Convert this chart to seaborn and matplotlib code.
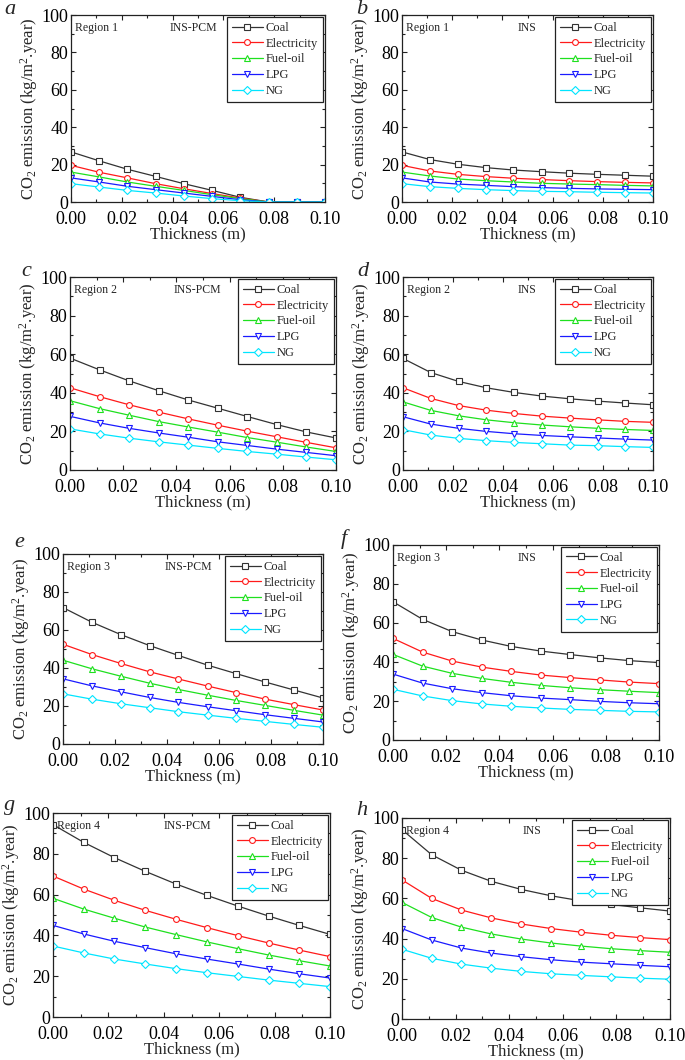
import numpy as np
import pandas as pd
import seaborn as sns
import matplotlib.pyplot as plt
from matplotlib.ticker import MultipleLocator

sns.set_style("ticks")
plt.rcParams['font.family'] = ['Liberation Serif', 'DejaVu Serif']
plt.rcParams['mathtext.fontset'] = 'custom'
plt.rcParams['mathtext.rm'] = 'Liberation Serif'
plt.rcParams['mathtext.default'] = 'regular'

# thickness (m)
thickness = [0.0, 0.0111, 0.0222, 0.0333, 0.0444, 0.0556, 0.0667, 0.0778, 0.0889, 0.1]
fuels = ["Coal", "Electricity", "Fuel-oil", "LPG", "NG"]

# a : Region 1, INS-PCM
r1_pcm = {
    "Coal":        [26.8, 22.0, 17.5, 13.7, 9.8, 6.2, 2.5, 0.0, 0.0, 0.0],
    "Electricity": [19.6, 15.9, 12.9, 9.8, 7.1, 4.5, 2.1, 0.0, 0.0, 0.0],
    "Fuel-oil":    [16.0, 13.4, 10.7, 8.4, 6.2, 3.9, 1.8, 0.0, 0.0, 0.0],
    "LPG":         [12.9, 10.7, 8.4, 6.6, 4.8, 3.0, 1.2, 0.0, 0.0, 0.0],
    "NG":          [9.8, 8.0, 6.2, 4.8, 3.2, 1.8, 0.7, 0.0, 0.0, 0.0],
}
# b : Region 1, INS
r1_ins = {
    "Coal":        [26.8, 22.7, 20.2, 18.4, 17.1, 16.2, 15.4, 14.8, 14.3, 13.8],
    "Electricity": [19.6, 16.6, 14.8, 13.6, 12.7, 12.0, 11.4, 10.9, 10.5, 10.2],
    "Fuel-oil":    [16.0, 13.9, 12.3, 11.4, 10.7, 10.0, 9.6, 9.3, 8.9, 8.6],
    "LPG":         [12.9, 10.7, 9.6, 8.9, 8.2, 7.7, 7.3, 7.0, 6.8, 6.6],
    "NG":          [9.8, 8.2, 7.3, 6.6, 6.1, 5.7, 5.5, 5.2, 5.0, 4.8],
}
# c : Region 2, INS-PCM
r2_pcm = {
    "Coal":        [58.0, 51.9, 46.2, 41.1, 36.3, 32.0, 27.7, 23.5, 19.7, 16.6],
    "Electricity": [42.6, 38.0, 33.8, 30.0, 26.5, 23.2, 20.1, 17.2, 14.3, 11.5],
    "Fuel-oil":    [35.9, 31.8, 28.4, 25.1, 22.3, 19.6, 16.8, 14.4, 11.9, 9.6],
    "LPG":         [27.8, 24.4, 21.6, 19.2, 17.0, 14.6, 12.7, 10.8, 9.1, 7.4],
    "NG":          [21.3, 18.7, 16.5, 14.6, 12.9, 11.2, 9.6, 8.2, 6.7, 5.3],
}
# d : Region 2, INS
r2_ins = {
    "Coal":        [57.8, 50.5, 45.9, 42.6, 40.2, 38.3, 36.9, 35.7, 34.7, 33.8],
    "Electricity": [42.6, 37.1, 33.4, 31.0, 29.3, 27.9, 26.9, 26.0, 25.2, 24.7],
    "Fuel-oil":    [35.3, 30.9, 28.1, 26.0, 24.5, 23.3, 22.4, 21.6, 21.0, 20.5],
    "LPG":         [27.6, 23.8, 21.6, 20.0, 18.8, 17.9, 17.2, 16.6, 16.0, 15.5],
    "NG":          [20.9, 18.1, 16.4, 15.2, 14.3, 13.6, 12.9, 12.6, 12.1, 11.7],
}
# e : Region 3, INS-PCM
r3_pcm = {
    "Coal":        [71.8, 64.1, 57.6, 51.8, 46.6, 41.5, 37.0, 32.6, 28.4, 24.2],
    "Electricity": [52.5, 47.1, 42.4, 38.0, 34.2, 30.5, 27.0, 23.6, 20.7, 17.9],
    "Fuel-oil":    [44.1, 39.6, 35.7, 32.0, 28.7, 25.7, 22.9, 20.3, 17.7, 15.2],
    "LPG":         [34.3, 30.6, 27.5, 24.5, 21.9, 19.6, 17.5, 15.4, 13.5, 11.6],
    "NG":          [26.4, 23.6, 21.2, 19.1, 17.0, 15.2, 13.5, 11.9, 10.3, 8.8],
}
# f : Region 3, INS
r3_ins = {
    "Coal":        [70.9, 61.9, 55.6, 51.3, 48.0, 45.6, 43.8, 42.1, 40.7, 39.7],
    "Electricity": [52.1, 45.1, 40.5, 37.4, 35.2, 33.3, 32.0, 30.8, 29.7, 28.9],
    "Fuel-oil":    [43.9, 37.9, 34.2, 31.6, 29.6, 28.0, 26.8, 25.8, 25.0, 24.3],
    "LPG":         [33.8, 29.2, 26.3, 24.3, 22.7, 21.5, 20.7, 19.8, 19.1, 18.6],
    "NG":          [26.0, 22.6, 20.2, 18.5, 17.3, 16.4, 15.7, 15.2, 14.7, 14.4],
}
# g : Region 4, INS-PCM
r4_pcm = {
    "Coal":        [94.3, 85.6, 78.1, 71.4, 65.2, 59.6, 54.4, 49.5, 44.9, 40.5],
    "Electricity": [69.1, 62.7, 57.2, 52.3, 47.9, 43.8, 39.9, 36.3, 32.8, 29.6],
    "Fuel-oil":    [58.2, 52.9, 48.4, 44.1, 40.4, 36.8, 33.5, 30.4, 27.6, 25.0],
    "LPG":         [44.9, 40.7, 37.1, 34.0, 31.0, 28.4, 26.0, 23.5, 21.2, 19.1],
    "NG":          [34.8, 31.4, 28.4, 26.0, 23.7, 21.7, 19.9, 18.1, 16.5, 14.9],
}
# h : Region 4, INS
r4_ins = {
    "Coal":        [94.2, 81.7, 74.0, 68.5, 64.5, 61.3, 58.8, 57.0, 55.3, 53.7],
    "Electricity": [69.2, 60.0, 54.2, 50.3, 47.3, 45.0, 43.2, 41.7, 40.5, 39.5],
    "Fuel-oil":    [58.0, 50.5, 45.7, 42.3, 39.8, 37.8, 36.3, 35.0, 34.0, 33.2],
    "LPG":         [45.0, 39.3, 35.3, 32.8, 31.0, 29.5, 28.3, 27.5, 26.7, 26.0],
    "NG":          [34.7, 30.2, 27.3, 25.3, 23.7, 22.5, 21.7, 21.0, 20.3, 19.8],
}

colors = {"Coal": "#333333", "Electricity": "#ff1a1a", "Fuel-oil": "#1ee01e",
          "LPG": "#1a1aff", "NG": "#00e5ff"}
markers = {"Coal": "s", "Electricity": "o", "Fuel-oil": "^", "LPG": "v", "NG": "D"}
msize = {"Coal": 3.8, "Electricity": 4.2, "Fuel-oil": 4.3, "LPG": 4.3, "NG": 3.6}

W, H = 685, 1060
# letter, region, case, data, (left, top, right, bottom) in px, case text x, letter pos
panels = [
    ("a", "Region 1", "INS-PCM", r1_pcm, (71, 15, 325, 202), 0.39, (4, 0)),
    ("b", "Region 1", "INS", r1_ins, (402, 15, 653, 202), 0.46, (356, 0)),
    ("c", "Region 2", "INS-PCM", r2_pcm, (70, 277, 336, 470), 0.39, (21, 262)),
    ("d", "Region 2", "INS", r2_ins, (403, 277, 653, 470), 0.46, (357, 262)),
    ("e", "Region 3", "INS-PCM", r3_pcm, (63, 554, 323, 744), 0.39, (14, 533)),
    ("f", "Region 3", "INS", r3_ins, (393, 545, 659, 740), 0.47, (341, 529)),
    ("g", "Region 4", "INS-PCM", r4_pcm, (53, 813, 330, 1017), 0.40, (4, 796)),
    ("h", "Region 4", "INS", r4_ins, (402, 818, 670, 1019), 0.45, (356, 801)),
]

fig = plt.figure(figsize=(W / 100, H / 100), dpi=100)

for letter, region, case, data, (l, t, r, b), cx, (lx, ly) in panels:
    ax = fig.add_axes([l / W, 1 - b / H, (r - l) / W, (b - t) / H])
    rows = []
    for f in fuels:
        for x, y in zip(thickness, data[f]):
            rows.append({"Thickness": x, "CO2": y, "Fuel": f})
    df = pd.DataFrame(rows)
    for f in fuels:
        sns.lineplot(data=df[df["Fuel"] == f], x="Thickness", y="CO2", ax=ax,
                     color=colors[f], marker=markers[f], markersize=msize[f],
                     markerfacecolor="white", markeredgecolor=colors[f],
                     markeredgewidth=0.8, linewidth=0.9, label=f)

    ax.set_xlim(0, 0.1)
    ax.set_ylim(0, 100)
    ax.xaxis.set_major_locator(MultipleLocator(0.02))
    ax.xaxis.set_minor_locator(MultipleLocator(0.01))
    ax.yaxis.set_major_locator(MultipleLocator(20))
    ax.yaxis.set_minor_locator(MultipleLocator(10))
    ax.xaxis.set_major_formatter(lambda v, p: f"{v:.2f}")
    ax.tick_params(which="both", direction="in", top=True, right=True,
                   labelsize=13, width=0.8, colors="#222222", labelcolor="black")
    ax.tick_params(which="major", length=3.5)
    ax.tick_params(which="minor", length=2)
    ax.tick_params(axis="x", pad=6.5)
    ax.tick_params(axis="y", pad=2)
    for s in ax.spines.values():
        s.set_linewidth(0.9)
        s.set_color("#222222")

    ax.set_xlabel("Thickness (m)", fontsize=12, labelpad=-1)
    ax.set_ylabel(r"CO$_2$ emission (kg/m$^2$.year)", fontsize=12, labelpad=1)

    ax.text(0.015, 0.965, region, transform=ax.transAxes, fontsize=8.5,
            ha="left", va="top")
    ax.text(cx, 0.965, case, transform=ax.transAxes, fontsize=8.5,
            ha="left", va="top")

    leg = ax.legend(loc="upper right", fontsize=9, frameon=True, fancybox=False,
                    borderaxespad=0.15, handlelength=2.5, handletextpad=0.25,
                    labelspacing=0.3, borderpad=0.4)
    leg.get_frame().set_edgecolor("#222222")
    leg.get_frame().set_linewidth(0.9)
    leg.get_frame().set_alpha(1)

    fig.text(lx / W, 1 - ly / H, letter, fontsize=16, style="italic",
             ha="left", va="top")

fig.savefig("out.png", dpi=100)
